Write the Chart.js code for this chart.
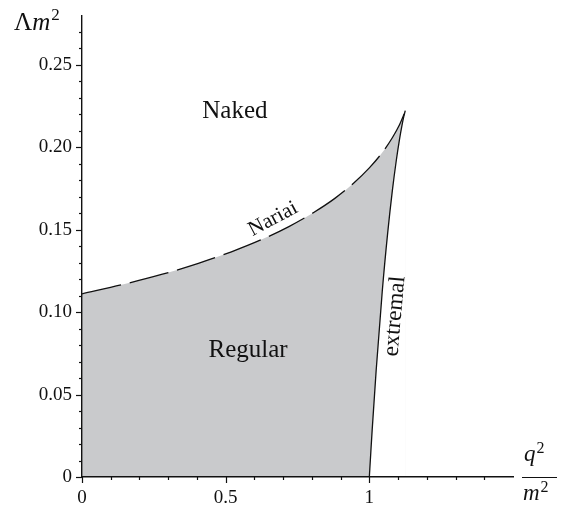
<!DOCTYPE html>
<html><head><meta charset="utf-8">
<script src="https://cdn.jsdelivr.net/npm/chart.js@4/dist/chart.umd.min.js"></script>
<style>html,body{margin:0;padding:0;background:#fff}canvas{display:block}</style>
</head><body>
<canvas id="c" width="570" height="505"></canvas>
<script>
// Nariai boundary (dashed)
const nariaiQ = [0, 0.145, 0.28, 0.405, 0.52, 0.625, 0.72, 0.805, 0.88, 0.945, 1.0, 1.045, 1.08, 1.105, 1.12, 1.1238, 1.125];
const nariaiL = [0.1111, 0.1169, 0.1230, 0.1296, 0.1366, 0.1440, 0.1519, 0.1603, 0.1690, 0.1782, 0.1875, 0.1968, 0.2058, 0.2137, 0.2197, 0.2215, 0.2222];
// extremal boundary (solid)
const extremalQ = [1.0, 1.005, 1.0098, 1.0238, 1.045, 1.0638, 1.08, 1.0938, 1.105, 1.1138, 1.12, 1.1238, 1.125];
const extremalL = [0, 0.0146, 0.0283, 0.0648, 0.1127, 0.1479, 0.1736, 0.1920, 0.2048, 0.2134, 0.2187, 0.2214, 0.2222];
// ticks
const xMajorTicks = [0, 0.5, 1];
const xTickLabels = ['0', '0.5', '1'];
const yMajorTicks = [0, 0.05, 0.10, 0.15, 0.20, 0.25];
const yTickLabels = ['0', '0.05', '0.10', '0.15', '0.20', '0.25'];
// texts
const regionLabels = ['Naked', 'Regular'];
const curveLabels = ['Nariai', 'extremal'];

const SERIF = "'Liberation Serif', serif";
const GRAY = 'rgb(201,202,204)';

function pts(xs, ys) { return xs.map((x, i) => ({x: x, y: ys[i]})); }
function findIdx(arr, v) { return arr.findIndex(a => Math.abs(a - v) < 1e-7); }

const deco = {
  id: 'deco',
  afterDraw(chart) {
    const ctx = chart.ctx, xs = chart.scales.x, ys = chart.scales.y;
    ctx.save();
    ctx.strokeStyle = '#111';
    ctx.lineWidth = 1.2;
    xs.ticks.forEach(t => {
      if (t.value > xs.max - 1e-9) return;
      const px = Math.round(xs.getPixelForValue(t.value)) + 0.5;
      const len = findIdx(xMajorTicks, t.value) >= 0 ? 6 : 3;
      ctx.beginPath(); ctx.moveTo(px, ys.bottom); ctx.lineTo(px, ys.bottom + len); ctx.stroke();
    });
    ys.ticks.forEach(t => {
      if (t.value > ys.max - 1e-9) return;
      const py = Math.round(ys.getPixelForValue(t.value)) + 0.5;
      const len = findIdx(yMajorTicks, t.value) >= 0 ? 6 : 3;
      ctx.beginPath(); ctx.moveTo(xs.left, py); ctx.lineTo(xs.left - len, py); ctx.stroke();
    });
    ctx.fillStyle = '#111';
    ctx.textAlign = 'center';
    ctx.textBaseline = 'middle';
    // region labels
    ctx.font = '25px ' + SERIF;
    ctx.fillText(regionLabels[0], xs.getPixelForValue(0.532), ys.getPixelForValue(0.2215));
    ctx.fillText(regionLabels[1], xs.getPixelForValue(0.578), ys.getPixelForValue(0.0765));
    // curve labels
    ctx.font = '21px ' + SERIF;
    ctx.save();
    ctx.translate(xs.getPixelForValue(0.665), ys.getPixelForValue(0.1565));
    ctx.rotate(-28 * Math.PI / 180);
    ctx.fillText(curveLabels[0], 0, 0);
    ctx.restore();
    ctx.font = '23px ' + SERIF;
    ctx.save();
    ctx.translate(xs.getPixelForValue(1.089), ys.getPixelForValue(0.0975));
    ctx.rotate(-85 * Math.PI / 180);
    ctx.fillText(curveLabels[1], 0, 0);
    ctx.restore();
    // y axis title: Λm²
    ctx.textAlign = 'left';
    ctx.textBaseline = 'alphabetic';
    ctx.font = '25px ' + SERIF;
    ctx.fillText('Λ', 14, 30);
    let w = ctx.measureText('Λ').width;
    ctx.font = 'italic 25px ' + SERIF;
    ctx.fillText('m', 14 + w, 30);
    let w2 = ctx.measureText('m').width;
    ctx.font = '17px ' + SERIF;
    ctx.fillText('2', 14 + w + w2 + 1, 20);
    // x axis title: q²/m²
    ctx.font = 'italic 23px ' + SERIF;
    ctx.fillText('q', 524, 461);
    let wq = ctx.measureText('q').width;
    ctx.font = '16px ' + SERIF;
    ctx.fillText('2', 524 + wq + 1, 453);
    ctx.beginPath(); ctx.lineWidth = 1; ctx.moveTo(522, 477.5); ctx.lineTo(557, 477.5); ctx.stroke();
    ctx.font = 'italic 23px ' + SERIF;
    ctx.fillText('m', 523, 500);
    let wm = ctx.measureText('m').width;
    ctx.font = '16px ' + SERIF;
    ctx.fillText('2', 523 + wm + 1, 492);
    ctx.restore();
  }
};

new Chart(document.getElementById('c'), {
  type: 'line',
  data: {
    datasets: [
      {
        label: 'extremal',
        data: pts(extremalQ, extremalL),
        borderColor: '#111',
        borderWidth: 1.3,
        backgroundColor: '#ffffff',
        fill: 'origin',
        pointRadius: 0,
        cubicInterpolationMode: 'monotone'
      },
      {
        label: 'Nariai',
        data: pts(nariaiQ, nariaiL),
        borderColor: '#111',
        borderWidth: 1.3,
        borderDash: [40, 9],
        backgroundColor: GRAY,
        fill: 'origin',
        pointRadius: 0,
        cubicInterpolationMode: 'monotone'
      }
    ]
  },
  options: {
    responsive: false,
    animation: false,
    devicePixelRatio: 1,
    layout: {padding: {left: 0, right: 57, top: 12, bottom: 0}},
    plugins: {
      legend: {display: false},
      tooltip: {enabled: false},
      filler: {drawTime: 'beforeDatasetsDraw'}
    },
    scales: {
      x: {
        type: 'linear', min: 0, max: 1.5,
        grid: {display: false, drawTicks: true, tickLength: 6},
        border: {display: true, color: '#111', width: 1.4, z: 2},
        ticks: {
          stepSize: 0.1, autoSkip: false, maxRotation: 0, padding: 4, z: 2,
          color: '#111', font: {family: SERIF, size: 19},
          callback: v => { const i = findIdx(xMajorTicks, v); return i >= 0 ? xTickLabels[i] : ''; }
        },
        afterFit: s => { s.height = 28; }
      },
      y: {
        type: 'linear', min: 0, max: 0.28,
        grid: {display: false, drawTicks: true, tickLength: 6},
        border: {display: true, color: '#111', width: 1.4, z: 2},
        ticks: {
          stepSize: 0.01, autoSkip: false, padding: 4, z: 2,
          color: '#111', font: {family: SERIF, size: 19},
          callback: v => { const i = findIdx(yMajorTicks, v); return i >= 0 ? yTickLabels[i] : ''; }
        },
        afterFit: s => { s.width = 82; }
      }
    }
  },
  plugins: [deco]
});
</script>
</body></html>
